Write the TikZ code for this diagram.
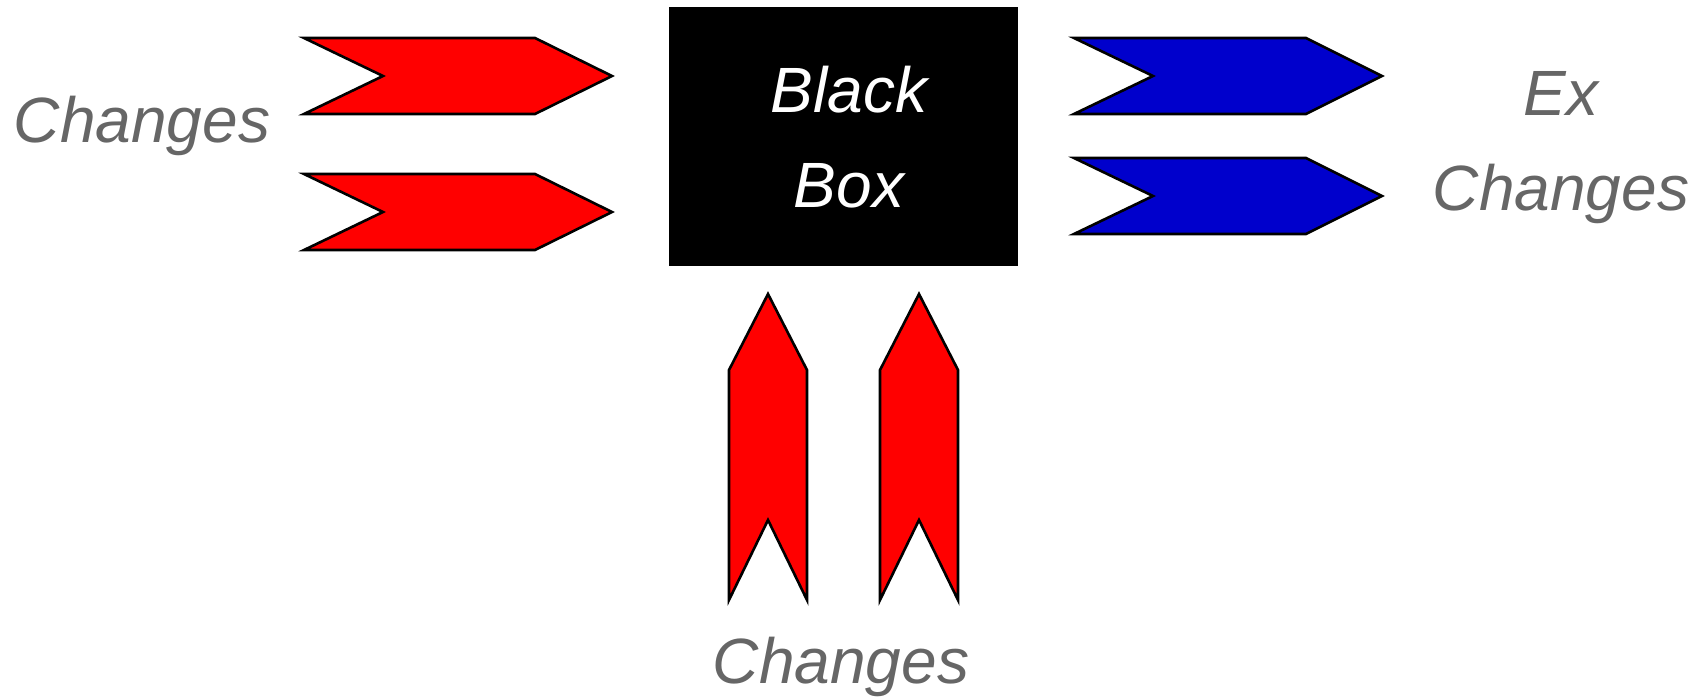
\documentclass[tikz,border=0pt]{standalone}
\usepackage{fontspec}
\setmainfont{Liberation Sans}
\usepackage{xcolor}
\usepackage{tikz}
\usetikzlibrary{positioning}
\definecolor{BBRed}{RGB}{255, 0, 0}
\definecolor{BBBlue}{RGB}{0, 0, 204}
\definecolor{BBGray}{RGB}{102, 102, 102}

\begin{document}
\begin{tikzpicture}[x=1pt,y=-1pt,
    inarrow/.style={fill=BBRed, draw=black, line width=2.6pt},
    outarrow/.style={fill=BBBlue, draw=black, line width=2.6pt},
    lbl/.style={inner sep=0pt, align=center, text=BBGray,
      font=\fontsize{64}{95}\selectfont\itshape}]
  \path[use as bounding box] (0,0) rectangle (1702,699);
  % black box
  \fill[black] (669,7) rectangle (1018,266);
  \node[lbl, text=white] (box) at (849,137) {Black\\Box};
  % inputs from the left
  \foreach \y in {38,174}{
    \draw[inarrow] (304,\y) -- (535,\y) -- (612,\y+38) -- (535,\y+76)
      -- (304,\y+76) -- (383,\y+38) -- cycle;
  }
  % outputs to the right
  \foreach \y in {38,158}{
    \draw[outarrow] (1074,\y) -- (1306,\y) -- (1382,\y+38) -- (1306,\y+76)
      -- (1074,\y+76) -- (1153,\y+38) -- cycle;
  }
  % inputs from below
  \foreach \x in {768,919}{
    \draw[inarrow] (\x,294) -- (\x+39,370) -- (\x+39,600) -- (\x,520)
      -- (\x-39,600) -- (\x-39,370) -- cycle;
  }
  \node[lbl, anchor=base] (inleft) at (142,142) {Changes};
  \node[lbl] (outright) at (1561,148) {Ex\\Changes};
  \node[lbl, anchor=base] (inbottom) at (841,683) {Changes};
\end{tikzpicture}
\end{document}
